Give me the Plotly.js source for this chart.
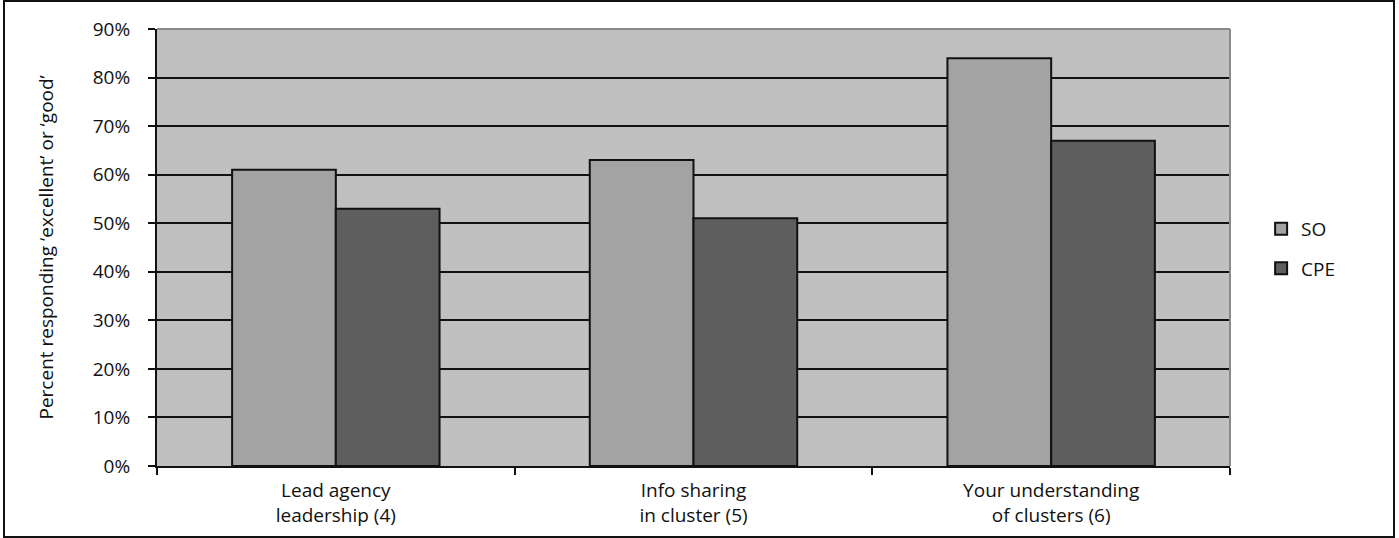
<!DOCTYPE html>
<html>
<head>
<meta charset="utf-8">
<script src="https://cdn.plot.ly/plotly-3.0.1.min.js"></script>
<style>
  html, body { margin: 0; padding: 0; background: #fff; }
  #wrap { position: relative; width: 1399px; height: 538px; }
  #chart { width: 1399px; height: 538px; }
  #frame { position: absolute; left: 3px; top: 0px; width: 1388px; height: 534px;
           border: 2px solid #111; pointer-events: none; }
</style>
</head>
<body>
<div id="wrap">
  <div id="chart"></div>
  <div id="frame"></div>
</div>
<script>
const categories = ["Lead agency<br>leadership (4)", "Info sharing<br>in cluster (5)", "Your understanding<br>of clusters (6)"];
const soValues = [61, 63, 84];
const cpeValues = [53, 51, 67];
const seriesNames = ["SO", "CPE"];
const yTickVals = [0, 10, 20, 30, 40, 50, 60, 70, 80, 90];
const yTickText = ["0%", "10%", "20%", "30%", "40%", "50%", "60%", "70%", "80%", "90%"];

const font = { family: "Open Sans, sans-serif", size: 19, color: "#111111" };

const traces = [
  { type: "bar", name: seriesNames[0], x: categories, y: soValues, legendgroup: "a",
    marker: { color: "#a3a3a3", line: { color: "#111", width: 2 } }, hoverinfo: "none" },
  { type: "bar", name: seriesNames[1], x: categories, y: cpeValues, legendgroup: "b",
    marker: { color: "#5e5e5e", line: { color: "#111", width: 2 } }, hoverinfo: "none" }
];

const layout = {
  width: 1399, height: 538,
  margin: { l: 157, r: 169, t: 29, b: 72 },
  paper_bgcolor: "#ffffff",
  plot_bgcolor: "#c0c0c0",
  font: font,
  barmode: "group",
  bargap: 0.42,
  bargroupgap: 0,
  showlegend: true,
  legend: { x: 1.029, y: 0.497, xanchor: "left", yanchor: "middle",
            traceorder: "grouped", tracegroupgap: 12, font: font, bgcolor: "rgba(0,0,0,0)" },
  xaxis: {
    type: "category",
    showgrid: false,
    showline: true, linecolor: "#111", linewidth: 2,
    ticks: "outside", tickson: "boundaries", ticklen: 7, tickwidth: 2, tickcolor: "#111",
    ticklabelstandoff: 6,
    tickfont: font,
    fixedrange: true
  },
  yaxis: {
    range: [0, 90],
    tickvals: yTickVals, ticktext: yTickText,
    showgrid: true, gridcolor: "#111", gridwidth: 2,
    zeroline: false,
    showline: true, linecolor: "#111", linewidth: 2,
    ticks: "outside", ticklen: 7, tickwidth: 2, tickcolor: "#111",
    ticklabelstandoff: 14,
    tickfont: font,
    fixedrange: true
  },
  annotations: [{
    text: "Percent responding ‘excellent’ or ‘good’",
    xref: "paper", yref: "paper",
    x: (45 - 157) / 1073, y: 0.5,
    xanchor: "center", yanchor: "middle",
    textangle: -90, showarrow: false, font: font
  }],
  shapes: [
    { type: "line", xref: "paper", yref: "paper", x0: 0, x1: 1, y0: 1, y1: 1,
      line: { color: "#8a8a8a", width: 2 }, layer: "above" },
    { type: "line", xref: "paper", yref: "paper", x0: 1, x1: 1, y0: 0, y1: 1,
      line: { color: "#8a8a8a", width: 2 }, layer: "above" }
  ]
};

Plotly.newPlot("chart", traces, layout, { staticPlot: true, displayModeBar: false });
</script>
</body>
</html>
